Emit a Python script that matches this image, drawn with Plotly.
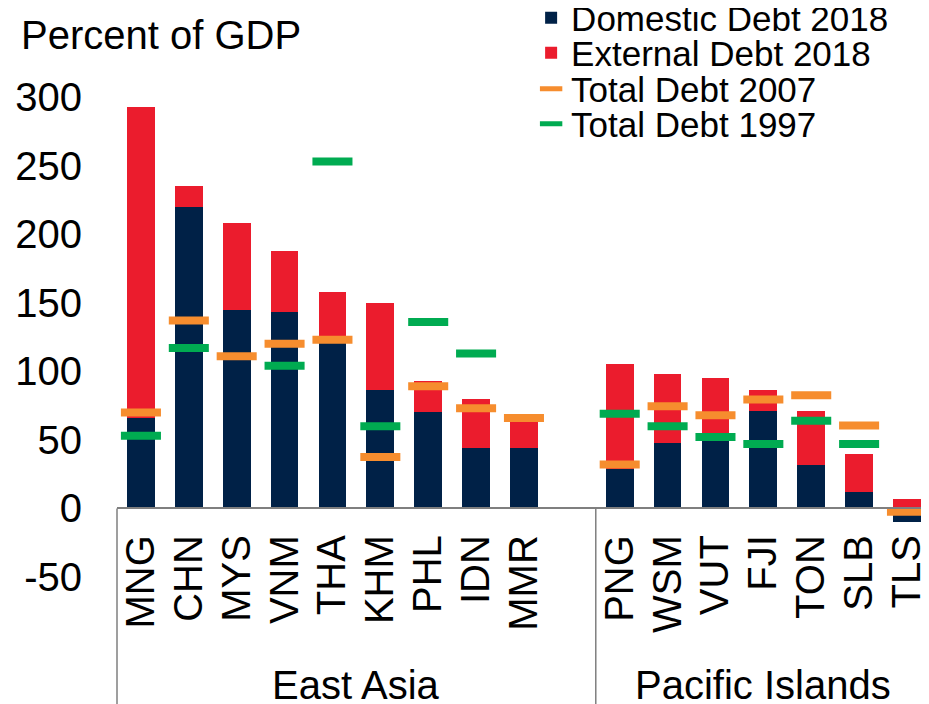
import plotly.graph_objects as go

east_asia = ['MNG', 'CHN', 'MYS', 'VNM', 'THA', 'KHM', 'PHL', 'IDN', 'MMR']
pacific = ['PNG', 'WSM', 'VUT', 'FJI', 'TON', 'SLB', 'TLS']

domestic_2018 = [66, 220, 145, 143, 121, 86, 70, 44, 44,
                 29, 48, 49, 71, 32, 12, -10]
external_2018 = [227, 15, 63, 45, 37, 64, 23, 36, 22,
                 76, 50, 46, 15, 39, 28, 7]
total_2007 = [70, 137, 111, 120, 123, 37.5, 89, 73, 66,
              32, 74.5, 68, 79.5, 82.5, 60.5, -2.5]
total_1997 = [53, 117, None, 104, 253, 60, 136, 113, None,
              69, 60, 52, 47, 64, 47, None]

y_ticks = [-50, 0, 50, 100, 150, 200, 250, 300]
y_tick_text = ['-50', '0', '50', '100', '150', '200', '250', '300']

NAVY = '#002147'
RED = '#EB1C2D'
ORANGE = '#F68D2E'
GREEN = '#00AB51'
FONT = 'Arial, Liberation Sans, sans-serif'

# page body has an 8px margin, so the figure is drawn 8px smaller and shifted
OFF = 8
W, H = 929, 704

# one empty slot between the two groups
codes = east_asia + pacific
xpos = list(range(len(east_asia))) + [len(east_asia) + 1 + i for i in range(len(pacific))]
x_min, x_max = -0.5, 16.46
y_min, y_max = -50, 300

fig = go.Figure()
fig.add_trace(go.Bar(x=xpos, y=domestic_2018, name='Domestic Debt 2018',
                     marker=dict(color=NAVY, line=dict(width=0)), width=0.58,
                     legend='legend'))
fig.add_trace(go.Bar(x=xpos, y=external_2018, name='External Debt 2018',
                     marker=dict(color=RED, line=dict(width=0)), width=0.58,
                     legend='legend2'))
fig.add_trace(go.Scatter(x=xpos, y=total_2007, name='Total Debt 2007', mode='markers',
                         marker=dict(symbol='line-ew', size=28.6,
                                     line=dict(color=ORANGE, width=8)),
                         cliponaxis=False, legend='legend3'))
fig.add_trace(go.Scatter(x=xpos, y=total_1997, name='Total Debt 1997', mode='markers',
                         marker=dict(symbol='line-ew', size=28.6,
                                     line=dict(color=GREEN, width=8)),
                         cliponaxis=False, legend='legend4'))

plot_top, plot_bottom = 97, 577   # page pixels
plot_w = W - 117


def py(pixel):
    return (plot_bottom - pixel) / (plot_bottom - plot_top)


def px(xval):
    return (xval - x_min) / (x_max - x_min)


zero_paper = (0 - y_min) / (y_max - y_min)

leg = dict(x=0.51, xanchor='left', yanchor='middle', bgcolor='rgba(0,0,0,0)',
           font=dict(family=FONT, size=35, color='black'))

fig.update_layout(
    width=W - OFF, height=H - OFF,
    margin=dict(l=117 - OFF, r=0, t=plot_top - OFF, b=H - plot_bottom, autoexpand=False),
    plot_bgcolor='white', paper_bgcolor='white',
    font=dict(family=FONT, color='black'),
    barmode='relative', bargap=0,
    showlegend=True,
    legend=dict(leg, y=py(18)),
    legend2=dict(leg, y=py(53)),
    legend3=dict(leg, y=py(89)),
    legend4=dict(leg, y=py(124)),
    xaxis=dict(range=[x_min, x_max], tickmode='array', tickvals=xpos, ticktext=codes,
               tickangle=-90, tickfont=dict(size=40, family=FONT),
               anchor='free', position=zero_paper,
               showline=True, linecolor='#7f7f7f', linewidth=1.5,
               ticks='', ticklabelstandoff=10, showgrid=False, zeroline=False),
    yaxis=dict(range=[y_min, y_max], tickmode='array', tickvals=y_ticks,
               ticktext=y_tick_text, showgrid=False, zeroline=False,
               showline=False, ticks='', tickfont=dict(size=40, family=FONT),
               ticklabelstandoff=34),
)

# group separators below the zero line
for xv in [x_min, 9.5]:
    fig.add_shape(type='line', xref='paper', yref='paper', x0=px(xv), x1=px(xv),
                  y0=zero_paper, y1=py(H), line=dict(color='#7f7f7f', width=1.5))

fig.add_annotation(text='East Asia', xref='x', yref='paper', x=4.5, y=py(685),
                   showarrow=False, font=dict(size=40, family=FONT), yanchor='middle')
fig.add_annotation(text='Pacific Islands', xref='x', yref='paper', x=13, y=py(685),
                   showarrow=False, font=dict(size=40, family=FONT), yanchor='middle')
fig.add_annotation(text='Percent of GDP', xref='paper', yref='paper', x=-98 / plot_w,
                   y=py(35), xanchor='left', yanchor='middle', showarrow=False,
                   font=dict(size=40, family=FONT))

fig.write_html('out.html')
